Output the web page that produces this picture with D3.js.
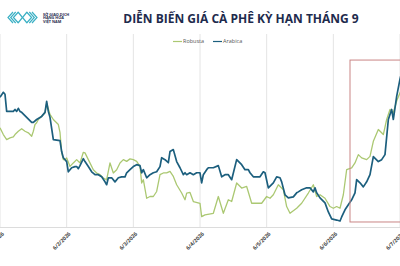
<!DOCTYPE html>
<html>
<head>
<meta charset="utf-8">
<script src="https://cdn.jsdelivr.net/npm/d3@7"></script>
<style>
  body { margin: 0; background: #fff; overflow: hidden; }
  svg { display: block; }
</style>
</head>
<body>
<script>
// session index, price index
var arabica = [[0,67.2],[1,69.8],[1.5,68.8],[2,59.9],[4,59.9],[4.5,60.9],[5,59.9],[5.5,61.5],[6,59.9],[6.5,59.4],
  [9.5,54.2],[10,54.2],[11,55.7],[12.5,57.3],[13.5,59.4],[14,65.1],[14.5,59.9],[15,56.8],[16,45.3],[18,44.8],
  [18.5,39.1],[19,35.9],[20,33.9],[20.5,28.6],[21.5,30.7],[22.5,31.3],[23,31.3],[23.5,30.2],[24,31.8],[25,35.4],
  [25.5,33.9],[26.5,31.3],[27.5,28.6],[28.5,27.1],[29.5,27.1],[30.5,26.0],[31.5,23.4],[32,21.9],[32.5,25.5],[33.5,25.5],
  [34.5,23.4],[35.5,25.5],[36.5,26.0],[37.5,26.0],[38,28.1],[39,29.7],[40,31.3],[41,32.3],[42,31.8],[42.5,28.1],
  [43,29.7],[44,25.5],[45,27.1],[46,28.1],[47,28.6],[48,31.3],[48.5,35.9],[49.5,34.9],[50.5,33.3],[51,39.1],
  [52,40.1],[53,33.9],[54,30.7],[55,27.1],[55.5,28.1],[56,27.1],[57,28.1],[58,27.1],[59,28.1],[60,28.1],
  [60.5,22.9],[61,27.1],[62,29.7],[62.5,30.7],[64,30.7],[65.5,31.8],[66.5,26.0],[67.5,27.1],[68.5,27.1],[69.5,24.5],
  [71,34.9],[72.5,32.3],[73.5,29.7],[74.5,29.7],[75,28.1],[76,26.0],[78,26.0],[79,28.6],[79.5,28.1],[80.5,20.3],
  [82,22.9],[83,26.0],[84,25.5],[84.5,23.4],[85.5,16.7],[86.5,15.1],[88,15.6],[89,17.7],[89.5,18.2],[90.5,19.3],
  [92,20.3],[93,20.3],[94,18.2],[94.5,20.3],[95,17.7],[96,15.1],[97.5,12.5],[98.5,7.8],[99.5,4.2],[101,3.6],
  [102,3.1],[102.5,5.2],[103.5,8.9],[104.5,11.5],[105.5,14.1],[106.5,17.7],[107,24.5],[108,22.9],[109,20.8],[110,23.4],
  [111,27.1],[112,36.5],[113.5,33.9],[114.5,34.9],[115.5,37.5],[116.5,55.7],[117.5,60.9],[118,55.7],[119,67.7],[120,76.6],[121,84]];

var robusta = [[0,51.4],[1,47.9],[2,45.3],[3,46.2],[4,46.7],[4.5,47.9],[5.5,49.6],[6.5,50.9],[7.5,49.6],[8.5,48.8],
  [9.5,47.0],[10,49.6],[10.5,53.1],[11,54.0],[11.5,55.7],[12.5,57.4],[13.5,59.2],[14,64.1],[15,58.3],[16,55.7],
  [17.5,53.1],[18,49.0],[18.5,38.5],[19,34.9],[19.5,34.9],[20,35.8],[21,31.4],[22,33.2],[23,34.9],[24,33.2],
  [25,38.7],[25.5,38.4],[26.5,34.9],[28,29.7],[29,28.0],[30,27.1],[31,25.4],[32,24.5],[33,33.2],[34,28.0],
  [35,29.7],[36,33.2],[37,34.9],[38,34.0],[39,35.3],[40,34.9],[41,34.0],[42,31.4],[42.5,22.8],[43,24.5],
  [44,14.9],[45,15.8],[46,15.8],[47,18.4],[48,27.1],[49,28.0],[50,28.0],[51,28.8],[52,26.2],[53,21.9],
  [54.5,17.6],[55.5,14.1],[56,17.6],[57,17.9],[58,13.2],[60,12.3],[60.5,5.4],[61.5,6.3],[64,7.1],[65.5,15.8],
  [67,7.1],[68.5,14.1],[69.5,13.2],[71,22.8],[72.5,20.2],[74,21.0],[75.5,12.3],[78.5,12.3],[80,15.8],[81,14.9],
  [82,16.7],[83.5,21.9],[85,19.3],[86,10.6],[87,7.1],[89,9.7],[90.5,12.3],[92.5,17.6],[94,21.9],[95,15.8],
  [96,16.7],[97.5,14.9],[99,10.6],[100,9.7],[101,10.6],[102,9.7],[103,16.7],[104,29.7],[105.5,30.6],[106.5,33.2],
  [107.5,37.5],[108.5,35.8],[110,34.9],[111,36.6],[112,44.4],[113.5,50.5],[115,47.9],[116,55.7],[117,60.9],[118,59.2],
  [119,65.3],[120,69.6],[121,73]];

var tickSessions = [0, 20, 40, 60, 80, 100, 120];
var tickLabels = ["6/1/2026", "6/2/2026", "6/3/2026", "6/4/2026", "6/5/2026", "6/6/2026", "6/7/2026"];
var highlight = {from: 105, to: 122, low: 2.6, high: 86.5};

const width = 400, height = 266;
const plot = {top: 34, bottom: 227, left: 0, right: 400};

const svg = d3.select("body").append("svg")
    .attr("width", width)
    .attr("height", height)
    .style("font-family", "'Open Sans', sans-serif");

const x = d3.scaleLinear().domain([0, 120]).range([plot.left, plot.right]);
const y = d3.scaleLinear().domain([0, 100]).range([plot.bottom, plot.top]);

// vertical gridlines
svg.append("g")
    .selectAll("line")
    .data(tickSessions)
    .join("line")
    .attr("x1", d => x(d)).attr("x2", d => x(d))
    .attr("y1", plot.top).attr("y2", plot.bottom)
    .attr("stroke", "#e4e4e4")
    .attr("stroke-width", 1);

// bottom axis line
svg.append("line")
    .attr("x1", plot.left).attr("x2", plot.right)
    .attr("y1", plot.bottom + 0.5).attr("y2", plot.bottom + 0.5)
    .attr("stroke", "#dcdcdc");

// rotated date labels (first and last are cut at the edges, as in the source)
svg.append("g")
    .selectAll("text")
    .data(tickSessions)
    .join("text")
    .attr("transform", d => `translate(${x(d) + 3},${plot.bottom + 6}) rotate(-45)`)
    .attr("text-anchor", "end")
    .attr("dy", "0.35em")
    .style("font-size", "5.3px")
    .style("font-weight", "bold")
    .attr("fill", "#444")
    .text((d, i) => tickLabels[i]);

const line = d3.line()
    .x(d => x(d[0]))
    .y(d => y(d[1]));

svg.append("path")
    .datum(robusta)
    .attr("fill", "none")
    .attr("stroke", "#abc872")
    .attr("stroke-width", 1.3)
    .attr("stroke-linejoin", "round")
    .attr("d", line);

svg.append("path")
    .datum(arabica)
    .attr("fill", "none")
    .attr("stroke", "#1c5f7e")
    .attr("stroke-width", 1.7)
    .attr("stroke-linejoin", "round")
    .attr("d", line);

// highlight box
svg.append("rect")
    .attr("x", x(highlight.from))
    .attr("y", y(highlight.high))
    .attr("width", x(highlight.to) - x(highlight.from))
    .attr("height", y(highlight.low) - y(highlight.high))
    .attr("fill", "none")
    .attr("stroke", "#c98585")
    .attr("stroke-width", 1);

// title
svg.append("text")
    .attr("x", 241)
    .attr("y", 23)
    .attr("text-anchor", "middle")
    .style("font-size", "12px")
    .style("font-weight", "bold")
    .attr("fill", "#1e2b4d")
    .text("DIỄN BIẾN GIÁ CÀ PHÊ KỲ HẠN THÁNG 9");

// legend
var legend = [{name: "Robusta", color: "#abc872", x: 173}, {name: "Arabica", color: "#1c5f7e", x: 213}];
const lg = svg.append("g").selectAll("g").data(legend).join("g")
    .attr("transform", d => `translate(${d.x},41.5)`);
lg.append("line").attr("x1", 0).attr("x2", 9).attr("stroke", d => d.color).attr("stroke-width", 1.2);
lg.append("text").attr("x", 10).attr("dy", "0.35em")
    .style("font-size", "5.5px").attr("fill", "#555").text(d => d.name);

// logo
const logo = svg.append("g").attr("transform", "translate(8,12)")
    .attr("fill", "none").attr("stroke", "#3bb0c4").attr("stroke-width", 1.2);
[0, 2.7, 5.4].forEach(function(o) {
    logo.append("polyline").attr("points", `${5 + o},0 ${0 + o},5.5 ${5 + o},11`);
    logo.append("polyline").attr("points", `${24 - o},0 ${29 - o},5.5 ${24 - o},11`);
});
logo.append("polyline").attr("points", "10,0 14.5,5.5 10,11");
logo.append("polyline").attr("points", "19,0 14.5,5.5 19,11");

svg.append("g")
    .selectAll("text")
    .data(["SỞ GIAO DỊCH", "HÀNG HÓA", "VIỆT NAM"])
    .join("text")
    .attr("x", 43)
    .attr("y", (d, i) => 15.5 + i * 3.6)
    .style("font-size", "3.8px")
    .style("font-weight", "bold")
    .attr("fill", "#1e2b4d")
    .text(d => d);
</script>
</body>
</html>
